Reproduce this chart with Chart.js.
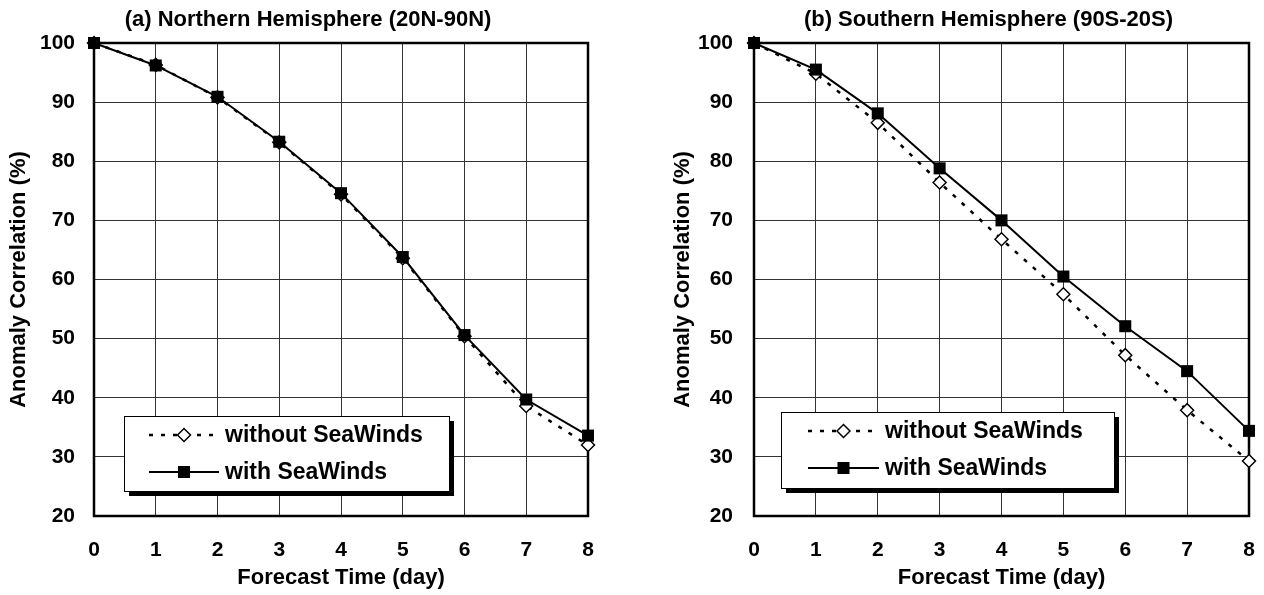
<!DOCTYPE html>
<html>
<head>
<meta charset="utf-8">
<script src="https://cdn.jsdelivr.net/npm/chart.js@4.4.0/dist/chart.umd.min.js"></script>
<style>
  html, body { margin: 0; padding: 0; background: #fff; overflow: hidden; }
  body { width: 1264px; height: 595px; position: relative; }
  canvas { position: absolute; top: 0; }
</style>
</head>
<body>
<canvas id="nh" width="616" height="595" style="left:0"></canvas>
<canvas id="sh" width="645" height="595" style="left:666px"></canvas>
<script>
// forecast days and y ticks
const days = [0, 1, 2, 3, 4, 5, 6, 7, 8];
const yTicks = [20, 30, 40, 50, 60, 70, 80, 90, 100];

// anomaly correlation (%)
const nhWithout = [100, 96.3, 90.8, 83.2, 74.4, 63.6, 50.4, 38.6, 32.0];
const nhWith    = [100, 96.2, 90.9, 83.3, 74.6, 63.8, 50.6, 39.7, 33.6];
const shWithout = [100, 94.8, 86.5, 76.4, 66.8, 57.5, 47.2, 37.9, 29.3];
const shWith    = [100, 95.5, 88.1, 78.8, 70.0, 60.5, 52.1, 44.5, 34.4];

const seriesNames = ["without SeaWinds", "with SeaWinds"];
const titles = ["(a) Northern Hemisphere (20N-90N)", "(b) Southern Hemisphere (90S-20S)"];
const xTitle = "Forecast Time (day)";
const yTitle = "Anomaly Correlation (%)";

const FONT = '"Liberation Sans", Arial, Helvetica, sans-serif';
Chart.defaults.font.family = FONT;
Chart.defaults.font.weight = 'bold';
Chart.defaults.color = '#000';

// thick frame round the plot area
const frame = {
  id: 'frame',
  beforeDatasetsDraw(chart) {
    const a = chart.chartArea, ctx = chart.ctx;
    ctx.save();
    ctx.lineWidth = 2.5;
    ctx.strokeStyle = '#000';
    ctx.strokeRect(a.left, a.top, a.right - a.left, a.bottom - a.top);
    ctx.restore();
  }
};

// the original titles sit a bit off the plot centre
const titleShift = {
  id: 'titleShift',
  afterLayout(chart, args, o) {
    const t = chart.titleBlock;
    if (t && o.dx) { t.left += o.dx; t.right += o.dx; }
  }
};

// legend box with drop shadow, inside the plot
const boxLegend = {
  id: 'boxLegend',
  afterDatasetsDraw(chart, args, o) {
    const ctx = chart.ctx;
    ctx.save();
    ctx.fillStyle = '#000';
    ctx.fillRect(o.left + 5, o.top + 5, o.width, o.height);
    ctx.fillStyle = '#fff';
    ctx.fillRect(o.left, o.top, o.width, o.height);
    ctx.lineWidth = 1;
    ctx.strokeStyle = '#000';
    ctx.strokeRect(o.left + 0.5, o.top + 0.5, o.width, o.height);

    [0, 1].forEach((i, row) => {
      const ds = chart.data.datasets[i];
      const y = o.top + o.rows[row];
      ctx.save();
      ctx.lineWidth = ds.borderWidth;
      ctx.strokeStyle = '#000';
      ctx.setLineDash(ds.borderDash || []);
      ctx.beginPath();
      ctx.moveTo(o.left + o.lineStart, y);
      ctx.lineTo(o.left + o.lineEnd, y);
      ctx.stroke();
      ctx.setLineDash([]);
      const mx = o.left + (o.lineStart + o.lineEnd) / 2;
      ctx.fillStyle = ds.pointBackgroundColor;
      ctx.strokeStyle = ds.pointBorderColor;
      ctx.lineWidth = ds.pointBorderWidth;
      Chart.helpers.drawPoint(ctx, {
        pointStyle: ds.pointStyle, radius: ds.pointRadius,
        borderWidth: ds.pointBorderWidth, rotation: 0
      }, mx, y);
      ctx.restore();

      ctx.fillStyle = '#000';
      ctx.font = 'bold 23px ' + FONT;
      ctx.textBaseline = 'middle';
      ctx.textAlign = 'left';
      ctx.fillText(ds.label, o.left + o.textX, y + 1);
    });
    ctx.restore();
  }
};

function makeChart(id, title, without, withSW, lay) {
  const pts = arr => days.map((d, i) => ({ x: d, y: arr[i] }));
  return new Chart(document.getElementById(id), {
    type: 'line',
    data: {
      datasets: [
        {
          label: seriesNames[0],
          data: pts(without),
          borderColor: '#000',
          borderWidth: 2.5,
          borderDash: [4, 8],
          pointStyle: 'rectRot',
          pointRadius: 6.5,
          pointBackgroundColor: '#fff',
          pointBorderColor: '#000',
          pointBorderWidth: 1.5,
          tension: 0,
          clip: false,
          order: 2
        },
        {
          label: seriesNames[1],
          data: pts(withSW),
          borderColor: '#000',
          borderWidth: 2,
          pointStyle: 'rect',
          pointRadius: 8.5,
          pointBackgroundColor: '#000',
          pointBorderColor: '#000',
          pointBorderWidth: 0,
          tension: 0,
          clip: false,
          order: 1
        }
      ]
    },
    options: {
      responsive: false,
      animation: false,
      layout: { padding: { top: 0, left: 0, bottom: 0, right: lay.padRight } },
      scales: {
        x: {
          type: 'linear',
          min: days[0],
          max: days[days.length - 1],
          afterBuildTicks: s => { s.ticks = days.map(v => ({ value: v })); },
          afterFit: s => { s.height = 79; },
          ticks: { padding: 22, font: { size: 21, weight: 'bold' }, color: '#000' },
          grid: { color: '#333', lineWidth: 1, drawTicks: false },
          border: { display: false },
          title: {
            display: true, text: xTitle, color: '#000',
            font: { size: 22, weight: 'bold' },
            padding: { top: 0, bottom: 4 }
          }
        },
        y: {
          min: yTicks[0],
          max: yTicks[yTicks.length - 1],
          afterBuildTicks: s => { s.ticks = yTicks.map(v => ({ value: v })); },
          afterFit: s => { s.width = lay.yWidth; },
          ticks: { padding: lay.yPad, font: { size: 21, weight: 'bold' }, color: '#000' },
          grid: { color: '#333', lineWidth: 1, drawTicks: false },
          border: { display: false },
          title: {
            display: true, text: yTitle, color: '#000',
            font: { size: 22, weight: 'bold' },
            padding: { top: lay.yTitlePad, bottom: 0 }
          }
        }
      },
      plugins: {
        legend: { display: false },
        tooltip: { enabled: false },
        title: {
          display: true, text: title, color: '#000',
          font: { size: 22, weight: 'bold' },
          padding: { top: 7, bottom: 9.6 }
        },
        titleShift: { dx: lay.titleDx },
        boxLegend: lay.legend
      }
    },
    plugins: [frame, titleShift, boxLegend]
  });
}

makeChart('nh', titles[0], nhWithout, nhWith, {
  padRight: 28, yWidth: 94, yPad: 19, yTitlePad: 6, titleDx: 14,
  legend: { left: 124, top: 416, width: 325, height: 75, rows: [19, 56],
            lineStart: 25, lineEnd: 95, textX: 101 }
});
makeChart('sh', titles[1], shWithout, shWith, {
  padRight: 62, yWidth: 88, yPad: 21, yTitlePad: 4, titleDx: 31,
  legend: { left: 115, top: 412, width: 333, height: 76, rows: [19, 56],
            lineStart: 27, lineEnd: 98, textX: 104 }
});
</script>
</body>
</html>
